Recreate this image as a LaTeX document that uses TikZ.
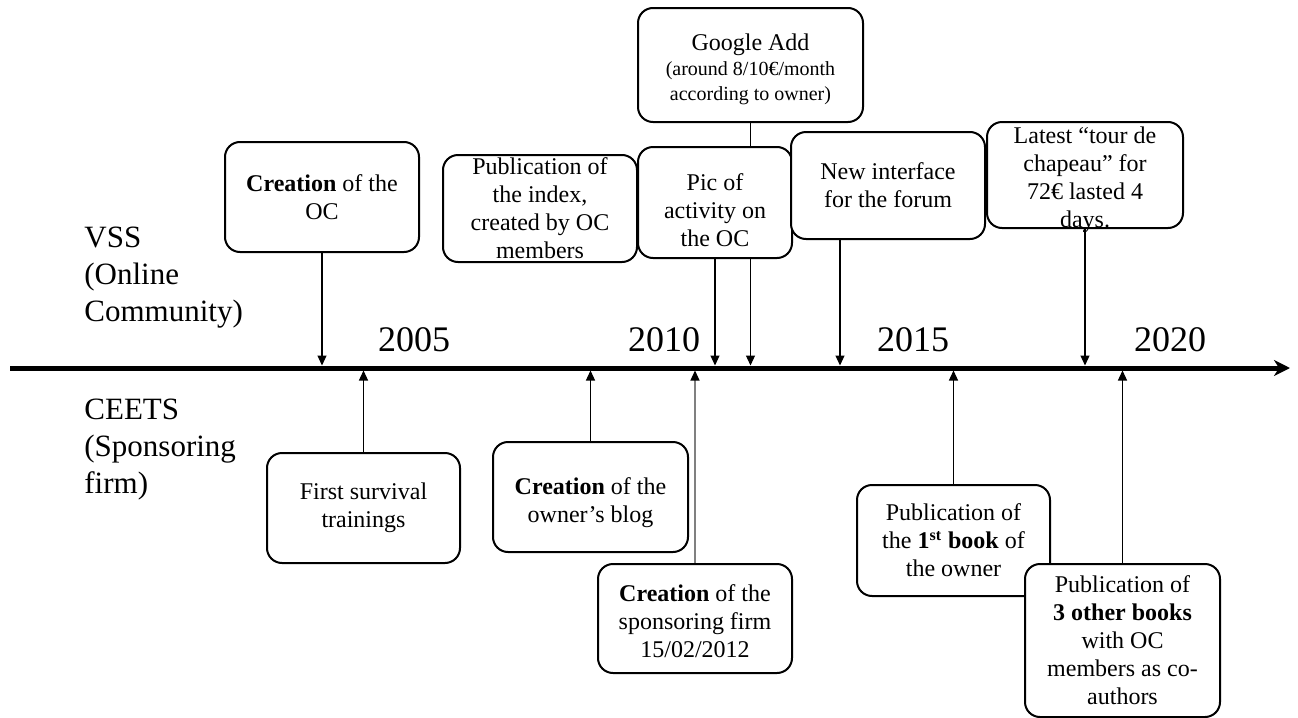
\documentclass[tikz,border=0pt]{standalone}
\usepackage{fontspec}
\setmainfont{Liberation Serif}
\usepackage{xcolor}
\definecolor{cLine}{HTML}{000000}
\definecolor{cGray}{HTML}{808080}
\usepackage{tikz}
\usetikzlibrary{arrows.meta,backgrounds}
\newcommand\topgap[1]{\rule{0pt}{#1}}
\tikzset{
  event-box/.style={draw=cLine,line width=1pt,rounded corners=7.5pt,fill=white,
    inner sep=0pt,align=center,font=\fontsize{12}{14}\selectfont},
  % time axis: thick line, events hang above (VSS) or below (CEETS)
  time-axis/.style={-{Stealth[length=8pt,width=8pt,inset=2.5pt]},line width=2.5pt,draw=cLine},
  arrow-event/.style={-{Triangle[length=5pt,width=4.5pt,color=cLine]},line width=0.6pt,
    draw=cLine,shorten >=1.25pt},
  arrow-event-gray/.style={arrow-event,draw=cGray},
  year-label/.style={inner sep=0pt,font=\fontsize{18}{21}\selectfont},
  side-label/.style={inner sep=0pt,anchor=north west,align=left,
    font=\fontsize{15.5}{18.5}\selectfont},
}
\begin{document}
\begin{tikzpicture}[x=0.5pt,y=-0.5pt]
  \useasboundingbox (0,0) rectangle (1298,718);
  \coordinate (axis-l) at (10,368);
  \coordinate (axis-r) at (1290,368);

  \node[side-label] (vss)   at (84,227) {VSS\\(Online\\Community)};
  \node[side-label] (ceets) at (84,399) {CEETS\\(Sponsoring\\firm)};

  \node[year-label] (y2005) at (414,340) {2005};
  \node[year-label] (y2010) at (664,340) {2010};
  \node[year-label] (y2015) at (913,340) {2015};
  \node[year-label] (y2020) at (1170,340) {2020};

  % VSS events
  \node[event-box,minimum width=97pt,minimum height=55pt] (oc) at (322,197)
       {\textbf{Creation} of the\\OC};
  \node[event-box,minimum width=97pt,minimum height=53.5pt] (index) at (540,208.5)
       {Publication of\\the index,\\created by OC\\members};
  \node[event-box,minimum width=112.5pt,minimum height=57pt,
        font=\fontsize{10}{12.5}\selectfont] (google) at (750.5,65)
       {\topgap{12.2pt}{\fontsize{12}{14}\selectfont Google Add}\\(around 8/10€/month\\according to owner)};
  \node[event-box,minimum width=77pt,minimum height=55.5pt] (pic) at (715,202.5)
       {\topgap{16pt}Pic of\\activity on\\the OC};
  \node[event-box,minimum width=97pt,minimum height=53.5pt] (forum) at (888,185.5)
       {New interface\\for the forum};
  \node[event-box,minimum width=98pt,minimum height=53pt,inner ysep=-2.6pt] (hat) at (1085,175)
       {\topgap{13.4pt}Latest “tour de\\chapeau” for\\72€ lasted 4\\days.};

  % CEETS events
  \node[event-box,minimum width=96.5pt,minimum height=55pt] (train) at (363.5,508)
       {First survival\\trainings};
  \node[event-box,minimum width=97.5pt,minimum height=55pt] (blog) at (590.5,497)
       {\topgap{14.2pt}\textbf{Creation} of the\\owner’s blog};
  \node[event-box,minimum width=97pt,minimum height=54.5pt] (firm) at (695,618.5)
       {\topgap{11.4pt}\textbf{Creation} of the\\sponsoring firm\\15/02/2012};
  \node[event-box,minimum width=96.5pt,minimum height=55.5pt] (book1) at (953.5,540.5)
       {Publication of\\the \textbf{1\textsuperscript{st} book} of\\the owner};
  \node[event-box,minimum width=97.5pt,minimum height=76.5pt] (books3) at (1122.5,640.5)
       {Publication of\\\textbf{3 other books}\\with OC\\members as co-\\authors};

  \coordinate (forum-foot) at ([xshift=-24pt]forum.south);

  \begin{scope}[on background layer]
    \draw[arrow-event] (oc) -- (oc |- axis-l);
    \draw[arrow-event] (pic) -- (pic |- axis-l);
    \draw[arrow-event] (google) -- (google |- axis-l);
    \draw[arrow-event] (forum-foot) -- (forum-foot |- axis-l);
    \draw[arrow-event] (hat) -- (hat |- axis-l);
    \draw[arrow-event] (train) -- (train |- axis-l);
    \draw[arrow-event] (blog) -- (blog |- axis-l);
    \draw[arrow-event-gray] (firm) -- (firm |- axis-l);
    \draw[arrow-event] (book1) -- (book1 |- axis-l);
    \draw[arrow-event] (books3) -- (books3 |- axis-l);
  \end{scope}

  \draw[time-axis] (axis-l) -- (axis-r);
\end{tikzpicture}
\end{document}
